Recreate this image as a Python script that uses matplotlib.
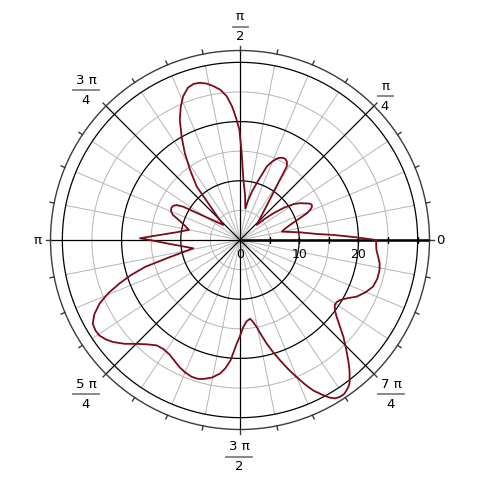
import numpy as np
import matplotlib
matplotlib.use("Agg")
import matplotlib.pyplot as plt
from matplotlib.lines import Line2D

# curve samples: angle (degrees) and radius
theta_deg = [0, 1.3, 3.1, 4.5, 7.3, 9.1, 11.3, 14.0, 16.7, 19.5, 21.8, 23.5, 24.9,
             26.2, 27.5, 29.4, 31.5, 33.8, 36.3, 38.7, 40.5, 42.0,
             50.7, 54.3, 56.3, 57.5, 59.0, 60.9, 63.0, 64.9, 67.5, 70.0, 73.6,
             76.0, 78.3, 80.5,
             83.5, 86.8, 88.9, 90.3, 91.6, 93.3, 95.3, 97.5, 99.9, 102.0, 104.3,
             106.5, 108.8, 111.6, 114.0, 116.6, 119.5, 122.4, 125.5, 129.0,
             131.3, 133.6, 138.0,
             143.7, 146.7, 149.6, 151.1, 153.0, 155.1, 157.5, 159.5, 162.8,
             165.5, 168.8,
             172.9, 175.6, 177.5, 179.0, 180.5, 182.6, 185.5, 190.1,
             193.7, 195.8, 197.8, 199.8, 202.0, 204.3, 207.0, 209.6, 212.1,
             214.2, 216.5, 218.8, 222.0, 225.0, 228.3, 231.6, 235.0, 238.3,
             241.5, 244.7, 247.5, 250.5, 253.0, 255.1, 258.5, 261.5, 263.5,
             265.5, 268.2, 270.0, 272.2, 274.5, 277.3, 279.0, 280.9, 282.7,
             284.5, 286.5, 288.4, 290.5, 292.5, 294.3, 296.0, 298.0, 299.6,
             301.0, 302.5, 304.0, 305.0, 306.5, 307.5, 309.5, 310.8, 312.0,
             314.5, 316.9, 319.3, 321.6, 323.6, 325.6, 327.3, 329.0, 331.5,
             334.1, 337.5, 340.7, 344.3, 347.9, 350.5, 353.1, 355.8, 358.0, 360.0]
radius = [23.0, 19.7, 15.8, 13.0, 10.2, 8.6, 7.2, 7.8, 8.8, 10.4, 12.2, 13.0, 13.4,
          13.5, 13.3, 12.6, 11.9, 10.9, 9.2, 7.2, 5.5, 3.8,
          6.5, 9.2, 11.9, 14.7, 15.4, 15.7, 15.6, 15.3, 14.4, 13.2, 10.0,
          8.5, 6.9, 5.4,
          7.6, 10.2, 14.7, 18.6, 20.3, 22.5, 24.4, 25.6, 26.4, 27.0, 27.4,
          27.5, 27.2, 26.1, 24.6, 22.7, 20.0, 17.4, 14.5, 11.6,
          7.7, 5.7, 3.8,
          5.6, 7.4, 11.1, 12.2, 12.7, 12.8, 12.6, 12.1, 10.5,
          9.6, 8.8,
          10.7, 12.8, 14.8, 16.9, 14.6, 12.4, 10.2, 8.0,
          12.2, 16.6, 19.3, 21.6, 24.0, 26.0, 27.6, 28.6, 28.8,
          28.7, 28.2, 27.5, 26.2, 24.8, 23.6, 22.7, 22.5, 22.7,
          23.2, 23.8, 24.2, 24.5, 24.5, 24.3, 23.7, 22.8, 21.8,
          20.4, 17.5, 16.2, 14.7, 13.8, 13.4, 14.0, 15.0, 16.5,
          18.1, 19.8, 21.4, 23.3, 25.1, 26.8, 28.3, 29.6, 30.6,
          31.2, 31.4, 31.4, 31.2, 30.8, 30.4, 29.1, 28.2, 27.3,
          25.5, 23.9, 22.2, 20.8, 19.9, 19.4, 19.4, 19.7, 20.6,
          21.9, 23.0, 23.8, 24.1, 24.1, 23.9, 23.5, 23.1, 23.0, 23.0]

gray_rings = [5, 15, 25]
black_rings = [10, 20, 30]
axis_ticks = [5, 10, 15, 20, 25, 30]
axis_labels = ["0", "10", "20"]
axis_label_r = [0, 10, 20]
RMAX = 32.0

W = 480.0
fig = plt.figure(figsize=(4.8, 4.8), dpi=100)
cx, cy, R = 240.0, 240.0, 189.5
ax = fig.add_axes([(cx - R) / W, (cy - R) / W, 2 * R / W, 2 * R / W], projection="polar")
ax.set_ylim(0, RMAX)
ax.grid(False)
ax.set_xticks([])
ax.set_yticks([])
ax.spines["polar"].set_color("#3a3a3a")
ax.spines["polar"].set_linewidth(1.0)

th = np.linspace(0, 2 * np.pi, 721)
for r in gray_rings:
    ax.plot(th, np.full_like(th, r), color="#b4b4b4", lw=0.7, zorder=1)
for r in black_rings:
    ax.plot(th, np.full_like(th, r), color="black", lw=0.9, zorder=2)

for k in range(32):
    a = k * np.pi / 16
    if k % 4:
        ax.plot([a, a], [0, 30], color="#b4b4b4", lw=0.7, zorder=1)
    else:
        ax.plot([a, a], [0, RMAX], color="black", lw=0.9, zorder=2)
    ax.plot([a, a], [RMAX, RMAX + 0.7], color="#3a3a3a", lw=1.0, clip_on=False, zorder=3)

# thick positive axis
ax.plot([0, 0], [0, RMAX], color="black", lw=1.8, zorder=4)
ax.plot(np.zeros(len(axis_ticks)), axis_ticks, linestyle="none", marker="|",
        markersize=5, color="black", zorder=4)

# curve
ax.plot(np.deg2rad(theta_deg), radius, color="#7a0c1c", lw=1.3, zorder=5,
        solid_joinstyle="round", antialiased=True)

scale = R / RMAX
for lab, rv in zip(axis_labels, axis_label_r):
    x = cx + rv * scale
    fig.text(x / W, 1 - 255 / W, lab, ha="center", va="center", fontsize=9, color="black")

fs = 9.5
def txt(x, y, s):
    fig.text(x / W, 1 - y / W, s, ha="center", va="center", fontsize=fs, color="black")

def frac(x, ytop, num, den, width):
    txt(x, ytop, num)
    ybar = ytop + 9.5
    fig.add_artist(Line2D([(x - width / 2) / W, (x + width / 2) / W],
                          [1 - ybar / W, 1 - ybar / W], color="#7f7f7f", lw=1.3))
    txt(x, ytop + 20, den)

txt(440, 240, "0")
txt(38, 240, "\u03c0")
frac(240, 17, "\u03c0", "2", 15)
frac(86, 80, "3 \u03c0", "4", 26)
frac(385, 86, "\u03c0", "4", 15)
frac(86, 384, "5 \u03c0", "4", 26)
frac(391, 384, "7 \u03c0", "4", 26)
frac(239, 447, "3 \u03c0", "2", 26)

fig.savefig("out.png", dpi=100, facecolor="white")
